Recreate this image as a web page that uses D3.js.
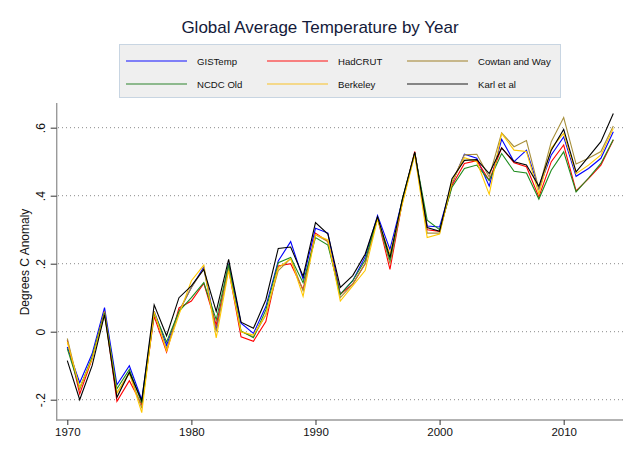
<!DOCTYPE html>
<html><head><meta charset="utf-8">
<script src="https://cdn.jsdelivr.net/npm/d3@7"></script>
<style>body{margin:0;background:#fff;} text{font-family:"Liberation Sans",Arial,Helvetica,sans-serif;}</style>
</head><body>
<svg id="c" width="640" height="465"></svg>
<script>
const years = d3.range(1970, 2015);
const seriesNames = ["GISTemp","HadCRUT","Cowtan and Way","NCDC Old","Berkeley","Karl et al"];
const seriesColors = ["#0000ff","#ff0000","#a8903c","#1e8c1e","#ffc800","#000000"];
const legendColors = ["#1010ff","#ff1010","#a08028","#8db98d","#f4d88a","#858585"];
const yTicks = [-0.2, 0, 0.2, 0.4, 0.6];
const yTickLabels = ["-.2","0",".2",".4",".6"];
const xTicks = [1970, 1980, 1990, 2000, 2010];

const gistemp = [-0.045,-0.15,-0.065,0.071,-0.156,-0.1,-0.2,0.06,-0.04,0.06,0.13,0.19,0.005,0.2,0.025,-0.005,0.074,0.208,0.265,0.155,0.304,0.29,0.11,0.15,0.22,0.342,0.242,0.387,0.525,0.311,0.308,0.435,0.522,0.51,0.428,0.566,0.5,0.534,0.42,0.52,0.573,0.457,0.48,0.51,0.588];
const hadcrut = [-0.025,-0.183,-0.08,0.06,-0.205,-0.144,-0.215,0.045,-0.06,0.07,0.09,0.142,0.02,0.185,-0.015,-0.028,0.03,0.193,0.2,0.124,0.29,0.265,0.11,0.14,0.2,0.335,0.183,0.382,0.53,0.3,0.295,0.43,0.495,0.503,0.445,0.541,0.497,0.485,0.396,0.5,0.549,0.414,0.45,0.49,0.564];
const cowtan = [-0.02,-0.17,-0.075,0.06,-0.18,-0.12,-0.225,0.055,-0.05,0.06,0.13,0.185,0.0,0.19,0.0,-0.015,0.05,0.18,0.215,0.12,0.285,0.265,0.1,0.14,0.2,0.335,0.2,0.38,0.525,0.29,0.29,0.44,0.52,0.522,0.455,0.585,0.544,0.562,0.42,0.559,0.63,0.493,0.51,0.53,0.605];
const ncdc = [-0.05,-0.166,-0.075,0.055,-0.168,-0.111,-0.21,0.055,-0.03,0.06,0.1,0.144,0.035,0.198,0.002,-0.018,0.064,0.203,0.218,0.144,0.277,0.255,0.11,0.15,0.21,0.335,0.21,0.39,0.525,0.328,0.3,0.425,0.48,0.49,0.445,0.524,0.472,0.467,0.39,0.475,0.529,0.411,0.452,0.495,0.565];
const berkeley = [-0.03,-0.165,-0.08,0.05,-0.18,-0.122,-0.238,0.06,-0.057,0.05,0.15,0.196,-0.018,0.18,0.0,-0.01,0.05,0.188,0.215,0.104,0.285,0.27,0.09,0.135,0.18,0.33,0.228,0.375,0.52,0.277,0.287,0.44,0.512,0.5,0.404,0.583,0.534,0.53,0.405,0.54,0.583,0.465,0.49,0.52,0.598];
const karl = [-0.085,-0.2,-0.1,0.05,-0.193,-0.119,-0.203,0.079,-0.012,0.1,0.135,0.183,0.06,0.213,0.028,0.01,0.094,0.245,0.249,0.163,0.321,0.287,0.13,0.165,0.228,0.338,0.218,0.39,0.528,0.306,0.295,0.45,0.504,0.506,0.465,0.54,0.5,0.49,0.428,0.534,0.595,0.47,0.514,0.559,0.642];

const allSeries = [gistemp, hadcrut, cowtan, ncdc, berkeley, karl];

const svg = d3.select("#c");
const x = d3.scaleLinear().domain([1969.146, 2014.78]).range([56.7, 623]);
const y = d3.scaleLinear().domain([-0.2597, 0.6726]).range([420, 103]);

// title
svg.append("text").attr("x", 320).attr("y", 33).attr("text-anchor","middle")
  .attr("font-size", 17).attr("fill", "#141a3a").text("Global Average Temperature by Year");

// legend
const lg = svg.append("g");
lg.append("rect").attr("x",119.5).attr("y",44.5).attr("width",441).attr("height",53)
  .attr("fill","#efefef").attr("stroke","#c8d5e2").attr("stroke-width",1);
const colX = [126, 267, 407];
const rowY = [61, 84];
const rowW = [1.2, 2];
seriesNames.forEach((n,i)=>{
  const r = Math.floor(i/3);
  const cx = colX[i%3], cy = rowY[r];
  lg.append("line").attr("x1",cx).attr("x2",cx+61).attr("y1",cy).attr("y2",cy)
    .attr("stroke",legendColors[i]).attr("stroke-width",rowW[r]);
  lg.append("text").attr("x",cx+71).attr("y",cy+3.5).attr("font-size",9.6).attr("fill","#111").text(n);
});

// gridlines
svg.append("g").selectAll("line").data(yTicks).join("line")
  .attr("x1",58).attr("x2",623).attr("y1",d=>y(d)).attr("y2",d=>y(d))
  .attr("stroke","#8a8a8a").attr("stroke-width",1).attr("stroke-dasharray","1,3");

// axes
const yAxis = d3.axisLeft(y).tickValues(yTicks).tickFormat((d,i)=>yTickLabels[i]).tickSize(6);
const gy = svg.append("g").attr("transform","translate(56.7,0)").call(yAxis);
gy.select(".domain").attr("stroke","#9a9a9a").attr("stroke-width",1.4).attr("d","M0,103V420.5");
gy.selectAll(".tick line").attr("stroke","#333");
gy.selectAll(".tick text").attr("font-size",12).attr("fill","#111")
  .attr("x",0).attr("y",0).attr("dy","0").attr("transform","translate(-12,0) rotate(-90)")
  .attr("text-anchor","middle");

const xAxis = d3.axisBottom(x).tickValues(xTicks).tickFormat(d3.format("d")).tickSize(5).tickPadding(3);
const gx = svg.append("g").attr("transform","translate(0,420)").call(xAxis);
gx.select(".domain").attr("stroke","#9a9a9a").attr("stroke-width",1.4).attr("d","M56,0H623");
gx.selectAll(".tick line").attr("stroke","#333");
gx.selectAll(".tick text").attr("font-size",11.5).attr("fill","#111");

// y axis title
svg.append("text").attr("transform","translate(29,262) rotate(-90)").attr("text-anchor","middle")
  .attr("font-size",12).attr("fill","#111").text("Degrees C Anomaly");

// series lines
const line = d3.line().x((d,i)=>x(years[i])).y(d=>y(d));
allSeries.forEach((s,i)=>{
  svg.append("path").datum(s).attr("d", line).attr("fill","none")
    .attr("stroke", seriesColors[i]).attr("stroke-width",1.1).attr("stroke-linejoin","miter");
});
</script>
</body></html>
